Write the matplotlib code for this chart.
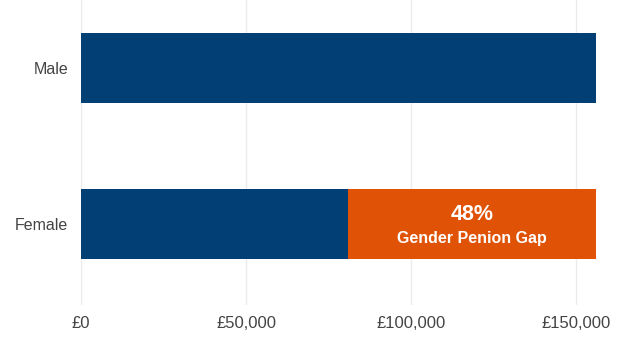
import matplotlib.pyplot as plt
from matplotlib.ticker import FuncFormatter

plt.rcParams['font.family'] = ['Liberation Sans', 'DejaVu Sans']

# average pension pot by gender
genders = ['Female', 'Male']
pension = [81000, 156000]
gap_pct = 48
gap_label = 'Gender Penion Gap'

blue = '#023f74'
orange = '#e05206'

fig = plt.figure(figsize=(6.34, 3.41), dpi=100)
ax = fig.add_axes([81 / 634, 36 / 341, 544.5 / 634, 305 / 341])

pos = range(len(genders))
ax.barh(pos, pension, height=0.45, color=blue, zorder=2)

# the gap sits on top of the female bar, up to the male value
female, male = pension[0], pension[1]
ax.barh(0, male - female, left=female, height=0.45, color=orange, zorder=2)
mid = female + (male - female) / 2
ax.text(mid, 0.058, f'{gap_pct}%', color='white', fontsize=15.5,
        fontweight='bold', ha='center', va='center', zorder=3)
ax.text(mid, -0.092, gap_label, color='white', fontsize=11.5,
        fontweight='bold', ha='center', va='center', zorder=3)

ax.set_xlim(0, 165000)
ax.set_ylim(-0.52, 1.436)
ax.set_xticks([0, 50000, 100000, 150000])
ax.xaxis.set_major_formatter(FuncFormatter(lambda v, p: f'£{v:,.0f}'))
ax.set_yticks(list(pos))
ax.set_yticklabels(genders)

ax.grid(axis='x', color='#ebebeb', linewidth=1, zorder=0)
for s in ax.spines.values():
    s.set_visible(False)
ax.tick_params(axis='x', length=0, pad=8, labelsize=12, labelcolor='#444444')
ax.tick_params(axis='y', length=0, pad=9, labelsize=11.5, labelcolor='#444444')

fig.savefig('out.png', dpi=100)
